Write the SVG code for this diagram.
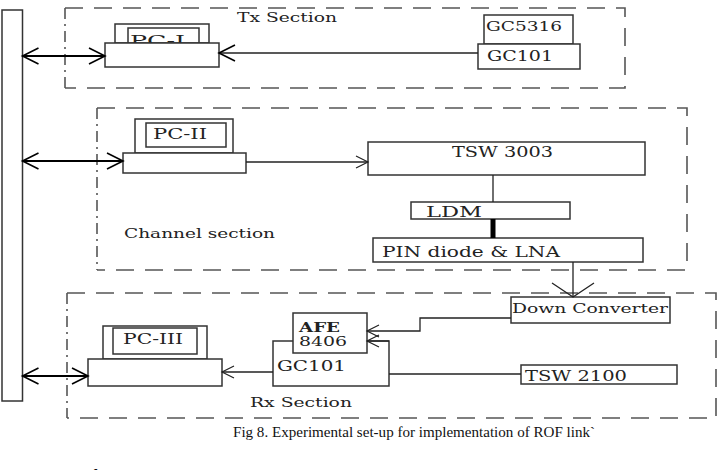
<svg xmlns="http://www.w3.org/2000/svg" width="724" height="470" viewBox="0 0 724 470">
<style>
.sec{fill:none;stroke:#555;stroke-width:1.6;stroke-dasharray:18 11}
.secl{fill:none;stroke:#555;stroke-width:1.6;stroke-dasharray:11 5 2 5}
.box{fill:#fff;stroke:#333;stroke-width:1.5}
.ln{fill:none;stroke:#222;stroke-width:1.3}
.bi{fill:none;stroke:#000;stroke-width:2}
.t{font-family:"DejaVu Serif","Liberation Serif",serif;font-size:14px;fill:#222}
.ts{font-family:"DejaVu Serif","Liberation Serif",serif;font-size:12px;fill:#222}
.cap{font-family:"Liberation Serif","Times New Roman",serif;font-size:14px;fill:#111}
</style>
<defs>
<marker id="arr" markerUnits="userSpaceOnUse" markerWidth="24" markerHeight="24" viewBox="-20 -12 24 24" refX="0" refY="0" orient="auto-start-reverse">
<path d="M-16,-8 L0,0 L-16,8" fill="none" stroke="#000" stroke-width="1.6"/>
</marker>
<marker id="arrS" markerUnits="userSpaceOnUse" markerWidth="24" markerHeight="24" viewBox="-20 -12 24 24" refX="0" refY="0" orient="auto">
<path d="M-12,-6 L0,0 L-12,6" fill="none" stroke="#222" stroke-width="1.2"/>
</marker>
<marker id="arrW" markerUnits="userSpaceOnUse" markerWidth="50" markerHeight="50" viewBox="-25 -25 50 50" refX="0" refY="0" orient="auto">
<path d="M-14,-21 L0,0 L-14,21" fill="none" stroke="#222" stroke-width="1.3"/>
</marker>
</defs>
<rect width="724" height="470" fill="#fff"/>

<g id="sections">
<path class="sec" d="M65,8 H625 V88 H65"/>
<path class="secl" d="M65,8 V88"/>
<text class="ts" x="237" y="22" textLength="100" lengthAdjust="spacingAndGlyphs">Tx Section</text>
<path class="sec" d="M97,108 H687 V270 H97"/>
<path class="secl" d="M97,108 V270"/>
<text class="ts" x="124" y="238" textLength="151" lengthAdjust="spacingAndGlyphs">Channel section</text>
<path class="sec" d="M67,293 H716 V418 H67"/>
<path class="secl" d="M67,293 V418"/>
<text class="ts" x="250" y="407" textLength="102" lengthAdjust="spacingAndGlyphs">Rx Section</text>
</g>

<g id="bus"><rect class="box" x="2" y="10" width="20.5" height="391"/></g>

<g id="pc1">
<rect class="box" x="115" y="24" width="94" height="19"/>
<rect class="box" x="128" y="28" width="71" height="15"/>
<text class="t" x="130" y="46" textLength="55" lengthAdjust="spacingAndGlyphs">PC-I</text>
<rect class="box" x="105" y="43" width="114" height="24"/>
</g>
<g id="gc5316">
<rect class="box" x="484" y="15" width="89" height="29"/>
<text class="ts" x="486" y="31" textLength="76" lengthAdjust="spacingAndGlyphs">GC5316</text>
</g>
<g id="gc101tx">
<rect class="box" x="478" y="44" width="102" height="25"/>
<text class="t" x="487" y="61" textLength="66" lengthAdjust="spacingAndGlyphs">GC101</text>
</g>

<g id="pc2">
<rect class="box" x="135" y="119" width="98" height="34"/>
<rect class="box" x="146" y="123" width="80" height="24"/>
<text class="t" x="153" y="139" textLength="54" lengthAdjust="spacingAndGlyphs">PC-II</text>
<rect class="box" x="123" y="153" width="123" height="20"/>
</g>
<g id="tsw3003">
<rect class="box" x="368" y="142" width="277" height="33"/>
<text class="t" x="452" y="157" textLength="101" lengthAdjust="spacingAndGlyphs">TSW 3003</text>
</g>
<g id="ldm">
<rect class="box" x="411" y="202" width="159" height="17"/>
<text class="t" x="426" y="217" textLength="56" lengthAdjust="spacingAndGlyphs">LDM</text>
</g>
<g id="pin">
<rect class="box" x="373" y="238" width="270" height="24"/>
<text class="t" x="382" y="257" textLength="178" lengthAdjust="spacingAndGlyphs">PIN diode &amp; LNA</text>
</g>
<g id="downconv">
<rect class="box" x="511" y="297" width="159" height="26"/>
<text class="ts" x="512" y="313" textLength="156" lengthAdjust="spacingAndGlyphs">Down Converter</text>
</g>

<g id="pc3">
<rect class="box" x="103" y="326" width="104" height="33"/>
<rect class="box" x="113" y="328" width="84" height="26"/>
<text class="t" x="123" y="344" textLength="60" lengthAdjust="spacingAndGlyphs">PC-III</text>
<rect class="box" x="88" y="359" width="134" height="27"/>
</g>
<g id="gc101rx">
<rect class="box" x="273" y="341" width="116" height="45"/>
<text class="t" x="277" y="371" textLength="69" lengthAdjust="spacingAndGlyphs">GC101</text>
</g>
<g id="afe">
<rect class="box" x="293" y="313" width="74" height="40"/>
<text class="ts" x="299" y="332" textLength="41" lengthAdjust="spacingAndGlyphs" font-weight="bold">AFE</text>
<text class="ts" x="299" y="346" textLength="48" lengthAdjust="spacingAndGlyphs">8406</text>
</g>
<g id="tsw2100">
<rect class="box" x="521" y="365" width="156" height="19"/>
<text class="t" x="525" y="381" textLength="102" lengthAdjust="spacingAndGlyphs">TSW 2100</text>
</g>

<g id="connectors">
<line class="bi" x1="22.5" y1="56" x2="105" y2="56" marker-start="url(#arr)" marker-end="url(#arr)"/>
<line class="bi" x1="22.5" y1="161" x2="123" y2="161" marker-start="url(#arr)" marker-end="url(#arr)"/>
<line class="bi" x1="22.5" y1="376" x2="88" y2="376" marker-start="url(#arr)" marker-end="url(#arr)"/>
<line class="ln" x1="478" y1="53" x2="219" y2="53" marker-end="url(#arr)"/>
<line class="ln" x1="246" y1="162" x2="368" y2="162" marker-end="url(#arrS)"/>
<line class="ln" x1="493" y1="175" x2="493" y2="202"/>
<line x1="493" y1="219" x2="493" y2="238" stroke="#000" stroke-width="5"/>
<line class="ln" x1="573" y1="262" x2="573" y2="297" marker-end="url(#arrW)"/>
<polyline class="ln" points="511,318 420,318 420,331 367,331" marker-end="url(#arrS)"/>
<polyline class="ln" points="521,374 389,374"/>
<line class="ln" x1="389" y1="341" x2="367" y2="341" marker-end="url(#arrS)"/>
<line class="ln" x1="273" y1="372" x2="222" y2="372" marker-end="url(#arrS)"/>
</g>

<text class="cap" x="233" y="437" textLength="362" lengthAdjust="spacingAndGlyphs">Fig 8.  Experimental set-up for implementation of ROF link`</text>
<text x="60" y="481" font-family="Liberation Serif, serif" font-size="16" font-weight="bold" fill="#111">Results</text>
</svg>
